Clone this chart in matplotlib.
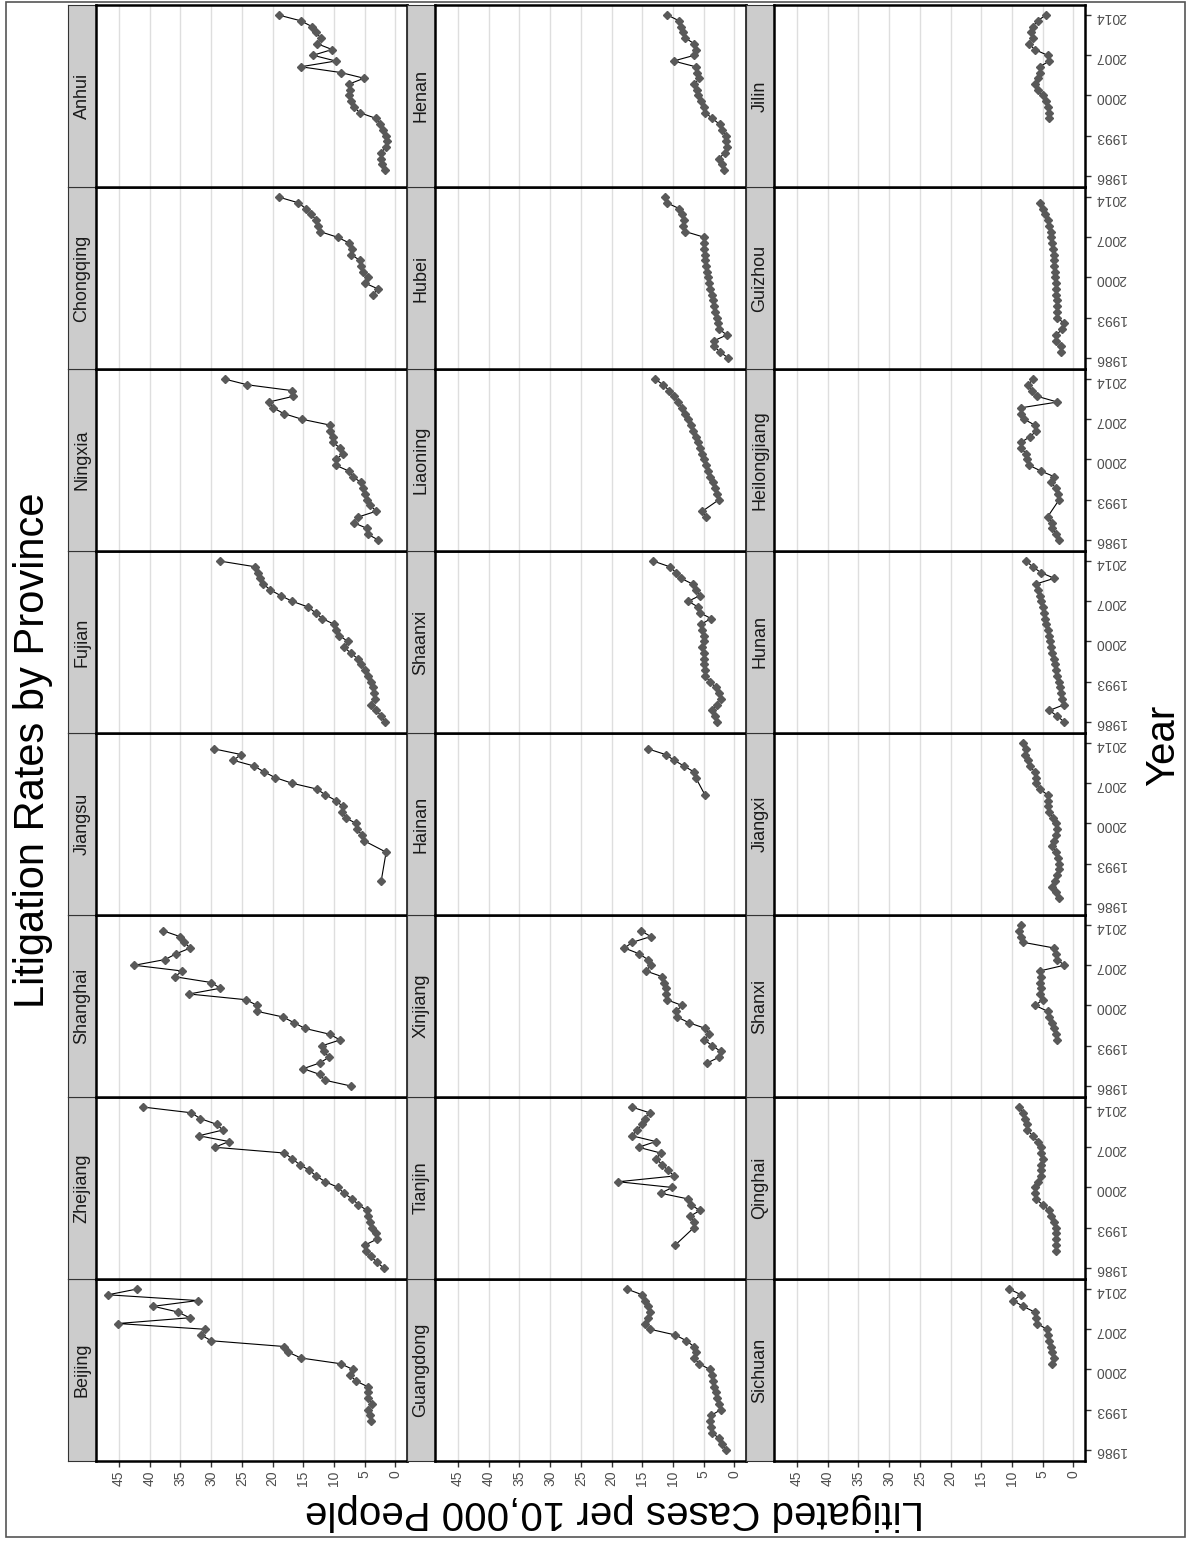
import numpy as np
import matplotlib
matplotlib.use("Agg")
import matplotlib.pyplot as plt
from matplotlib.patches import Rectangle

plt.rcParams['font.family'] = ['Liberation Sans', 'DejaVu Sans']

N = None
years = list(range(1986, 2015))

# values per province, one slot per year 1986..2014 (None = no data)
beijing = [N, N, N, N, N, 4.0, 4.2, 4.4, 3.8, 4.5, 4.5, 4.5, 6.4, 7.4, 6.9, 8.9, 15.4, 17.4, 18.1, 30.0,
           31.6, 31.0, 45.2, 33.5, 35.4, 39.4, 32.2, 46.8, 42.1]
zhejiang = [1.9, 3.0, 4.0, 4.8, 4.9, 3.0, 3.2, 3.8, 4.2, 4.4, 4.6, 6.0, 7.0, 8.4, 9.3, 11.4, 12.9, 14.0, 15.6, 16.8,
            18.1, 29.4, 27.1, 32.0, 28.1, 29.1, 31.8, 33.2, 41.1]
shanghai = [7.3, 11.5, 12.3, 15.0, 12.3, 10.8, 11.6, 11.9, 9.0, 10.7, 14.7, 16.5, 18.3, 22.6, 22.5, 24.3, 33.6, 28.5,
            30.0, 35.9, 34.7, 42.5, 37.5, 35.7, 33.4, 34.4, 35.1, 37.8, N]
jiangsu = [N, N, N, N, 2.3, N, N, N, N, 1.5, N, 5.1, 5.4, 6.3, 6.4, 8.1, 8.7, 8.6, 9.7, 11.4,
           12.8, 16.8, 19.6, 21.4, 23.0, 26.4, 25.1, 29.6, N]
fujian = [1.7, 2.3, 3.1, 4.0, 3.3, 3.4, 3.6, 4.0, 4.4, 5.0, 5.6, 6.1, 7.3, 8.3, 7.7, 9.1, 9.6, 10.0, 11.9, 13.0,
          14.2, 16.8, 18.7, 20.4, 21.5, 22.0, 22.4, 22.8, 28.6]
ningxia = [2.8, 4.5, 4.6, 6.8, 6.0, 3.1, 4.1, 4.6, 4.9, 5.3, 5.6, 6.9, 7.6, 9.7, 9.7, 8.5, 9.0, 10.2, 10.1, 10.7,
           10.7, 15.2, 18.2, 19.9, 20.6, 16.6, 16.9, 24.1, 27.8]
chongqing = [N, N, N, N, N, N, N, N, N, N, N, 3.7, 2.8, 4.9, 4.4, 5.3, 5.6, 5.8, 7.2, 7.1,
             7.5, 9.4, 12.3, 12.6, 12.9, 13.7, 14.6, 15.8, 19.0]
anhui = [N, 1.7, 2.1, 2.4, 2.4, 1.5, 1.35, 1.5, 2.0, 2.5, 3.1, 5.8, 6.7, 7.3, 7.6, 7.4, 7.5, 5.1, 8.9, 15.4,
         9.7, 13.4, 10.3, 12.7, 12.1, 13.0, 13.6, 15.4, 19.0]

guangdong = [1.4, 2.0, 2.5, 3.6, 3.8, 4.0, 3.8, 2.2, 2.5, 2.8, 3.0, 3.3, 3.4, 3.6, 4.0, 5.7, 6.6, 6.3, 6.6, 7.8,
             9.6, 13.7, 14.6, 14.1, 13.7, 14.1, 14.6, 15.0, 17.5]
tianjin = [N, N, N, N, 9.6, N, N, 6.6, 6.6, 7.2, 5.6, 7.1, 7.5, 12.0, 10.1, 18.9, 9.8, 10.8, 11.8, 12.7,
           12.0, 15.6, 12.8, 16.7, 15.8, 15.0, 14.6, 13.8, 16.7]
xinjiang = [N, N, N, N, 4.4, 2.5, 2.2, 3.6, 4.9, 4.1, 4.7, 7.4, 9.3, 9.5, 8.5, 11.0, 11.1, 11.2, 11.4, 11.7,
            14.4, 13.6, 14.1, 15.5, 17.9, 16.6, 13.6, 15.2, N]
hainan = [N, N, N, N, N, N, N, N, N, N, N, N, N, N, N, N, N, N, N, 4.8,
          N, N, 6.3, 6.6, 8.2, 9.8, 11.2, 14.1, N]
shaanxi = [2.8, 3.2, 3.6, 2.8, 2.2, 2.5, 3.0, 4.0, 4.7, 4.8, 4.9, 5.0, 5.0, 5.2, 4.9, 5.0, 5.2, 5.4, 3.8, 5.6,
           5.9, 7.5, 5.6, 6.3, 6.8, 8.7, 9.5, 10.5, 13.2]
liaoning = [N, N, N, N, 4.6, 5.2, N, 2.5, 2.8, 3.2, 3.5, 3.9, 4.3, 4.6, 5.0, 5.3, 5.6, 5.9, 6.3, 6.7,
            7.1, 7.5, 8.0, 8.6, 9.2, 9.9, 10.6, 11.6, 12.9]
hubei = [1.0, 2.3, 3.3, 3.3, 1.2, 2.5, 2.7, 2.9, 3.1, 3.3, 3.5, 3.7, 3.9, 4.1, 4.3, 4.5, 4.6, 4.7, 4.8, 4.9,
         5.0, 4.9, 8.0, 8.3, 8.2, 8.5, 9.0, 11.0, 11.3]
henan = [N, 1.7, 2.0, 2.5, 1.6, 1.2, 1.4, 1.4, 2.0, 2.4, 3.6, 4.7, 4.9, 5.5, 5.9, 6.0, 6.5, 5.7, 6.0, 6.3,
         9.9, 6.5, 6.2, 6.5, 8.0, 8.3, 8.7, 9.0, 10.9]

sichuan = [N, N, N, N, N, N, N, N, N, N, N, N, N, N, N, 3.4, 3.2, 3.4, 3.7, 3.9,
           4.2, 4.3, 5.9, 6.1, 6.3, 8.2, 9.8, 8.5, 10.4]
qinghai = [N, N, N, 2.8, 2.8, 2.8, 2.8, 2.8, 3.2, 3.7, 3.9, 5.0, 6.1, 6.2, 6.3, 5.8, 5.3, 5.3, 5.3, 5.0,
           5.2, 5.3, 5.8, 6.6, 7.5, 7.5, 7.9, 8.2, 8.8]
shanxi = [N, N, N, N, N, N, N, N, 2.6, 2.8, 3.1, 3.4, 3.9, 4.2, 6.2, 5.0, 5.5, 5.3, 5.5, 5.3,
          5.5, 1.5, 2.6, 2.8, 3.1, 8.2, 8.5, 8.8, 8.5]
jiangxi = [N, 2.3, 2.8, 3.4, 3.0, 2.6, 2.3, 2.3, 2.5, 2.8, 3.4, 3.1, 2.8, 2.6, 2.8, 3.3, 3.9, 4.2, 4.2, 4.2,
           5.5, 6.1, 6.1, 6.3, 7.1, 7.4, 7.9, 7.7, 8.2]
hunan = [1.5, 2.6, 3.9, 1.5, 1.8, 2.0, 2.2, 2.4, 2.6, 2.8, 3.0, 3.2, 3.4, 3.6, 3.8, 4.0, 4.2, 4.4, 4.6, 4.8,
         5.0, 5.2, 5.4, 5.8, 6.1, 3.1, 5.3, 6.6, 7.7]
heilongjiang = [2.3, 2.8, 3.4, 3.4, 4.2, N, N, 2.3, 2.5, 2.8, 3.7, 3.1, 5.3, 7.2, 7.5, 7.7, 8.5, 8.5, 7.0, 6.0,
                6.3, 8.0, 8.5, 8.5, 2.6, 5.9, 6.8, 7.4, 6.5]
guizhou = [N, 2.0, 2.0, 2.8, 2.8, 1.8, 1.5, 2.6, 2.6, 2.7, 2.7, 2.8, 2.9, 2.9, 3.0, 3.0, 3.1, 3.1, 3.2, 3.3,
           3.4, 3.6, 3.7, 3.9, 4.2, 4.6, 5.0, 5.5, N]
jilin = [N, N, N, N, N, N, N, N, N, N, 3.9, 4.0, 4.2, 4.5, 5.0, 5.8, 6.3, 5.8, 5.5, 5.5,
         3.9, 4.2, 6.3, 7.2, 6.6, 6.9, 6.6, 5.8, 4.5]

provinces = ["Beijing", "Zhejiang", "Shanghai", "Jiangsu", "Fujian", "Ningxia", "Chongqing", "Anhui",
             "Guangdong", "Tianjin", "Xinjiang", "Hainan", "Shaanxi", "Liaoning", "Hubei", "Henan",
             "Sichuan", "Qinghai", "Shanxi", "Jiangxi", "Hunan", "Heilongjiang", "Guizhou", "Jilin"]
series = [beijing, zhejiang, shanghai, jiangsu, fujian, ningxia, chongqing, anhui,
          guangdong, tianjin, xinjiang, hainan, shaanxi, liaoning, hubei, henan,
          sichuan, qinghai, shanxi, jiangxi, hunan, heilongjiang, guizhou, jilin]

value_ticks = [0, 5, 10, 15, 20, 25, 30, 35, 40, 45]
year_ticks = [1986, 1993, 2000, 2007, 2014]

W, H = 1188, 1541
fig = plt.figure(figsize=(W / 100, H / 100), dpi=100)


def fx(px):
    return px / W


def fy(py):
    return 1 - py / H


panel_w = 311.6
strip_w = 27.4
col_step = 339.0
row_h = 182.0

for i, (name, vals) in enumerate(zip(provinces, series)):
    col = i // 8
    row = i % 8
    left = 95.7 + col * col_step
    bottom = 1461 - row * row_h

    # strip (facet label)
    sax = fig.add_axes([fx(left - strip_w), fy(bottom), strip_w / W, row_h / H])
    sax.set_facecolor('#CCCCCC')
    sax.set_xticks([])
    sax.set_yticks([])
    for s in sax.spines.values():
        s.set_color('#333333')
        s.set_linewidth(0.8)
    sax.text(0.5, 0.5, name, rotation=90, ha='center', va='center', fontsize=13,
             color='#1A1A1A', transform=sax.transAxes)

    ax = fig.add_axes([fx(left), fy(bottom), panel_w / W, row_h / H])
    ax.set_xlim(48.8, -1.95)
    ax.set_ylim(1984.07, 2015.75)
    ax.set_xticks(value_ticks)
    ax.set_yticks(year_ticks)
    ax.grid(axis='x', color='#DEDEDE', lw=1.0)
    ax.set_axisbelow(True)
    for s in ax.spines.values():
        s.set_color('black')
        s.set_linewidth(1.8)

    yrs = [y for y, v in zip(years, vals) if v is not None]
    vs = [v for v in vals if v is not None]
    ax.plot(vs, yrs, color='black', lw=0.8, zorder=2)
    ax.plot(vs, yrs, 'D', ms=3.9, color='#595959', mec='#595959', zorder=3)

    if row == 0:
        ax.tick_params(axis='x', length=4, width=1, color='#333333', labelsize=10,
                       labelcolor='#4D4D4D', labelrotation=90, pad=3)
    else:
        ax.tick_params(axis='x', length=0, labelbottom=False)
    if col == 2:
        ax.yaxis.tick_right()
        ax.tick_params(axis='y', length=4, width=1, color='#333333', labelsize=10,
                       labelcolor='#4D4D4D', pad=3)
        for lab in ax.get_yticklabels():
            lab.set_rotation(180)
    else:
        ax.tick_params(axis='y', left=False, right=False, labelleft=False, labelright=False)

fig.text(fx(33), fy(750), "Litigation Rates by Province", rotation=90, ha='center', va='center',
         fontsize=30, color='black')
fig.text(fx(1163), fy(745), "Year", rotation=90, ha='center', va='center', fontsize=29, color='black')
fig.text(fx(615), fy(1512), "Litigated Cases per 10,000 People", rotation=180, ha='center',
         va='center', fontsize=29, color='black')

fig.patches.append(Rectangle((fx(6), fy(1537)), (1185 - 6) / W, (1537 - 2) / H, transform=fig.transFigure,
                             fill=False, ec='#555555', lw=1.2))

fig.savefig('out.png', dpi=100)
